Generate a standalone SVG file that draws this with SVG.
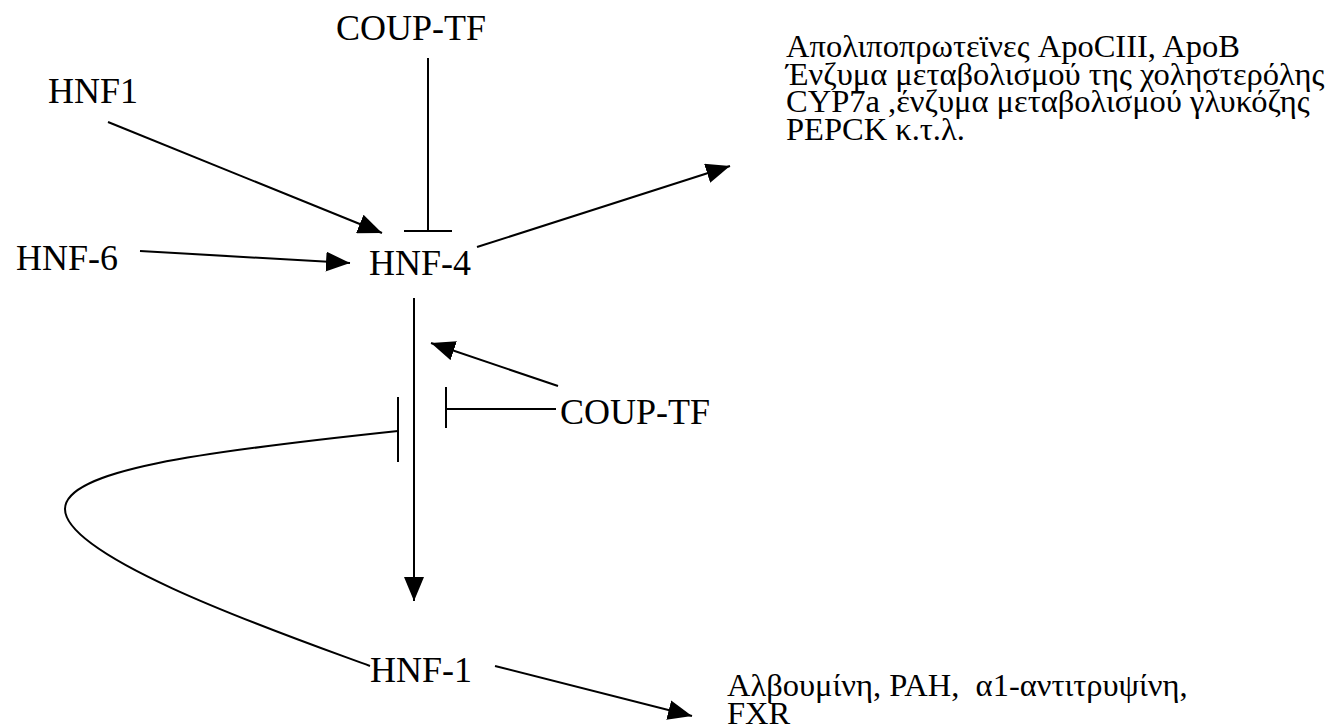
<svg xmlns="http://www.w3.org/2000/svg" width="1338" height="728" viewBox="0 0 1338 728">
<defs>
<style>
.ln{stroke:#000;stroke-width:2;fill:none}
</style>
<marker id="arr" viewBox="0 0 24 20" refX="24" refY="10" markerWidth="24" markerHeight="20" markerUnits="userSpaceOnUse" orient="auto"><path d="M0,0 L24,10 L0,20 z" fill="#000"/></marker>
</defs>
<rect width="1338" height="728" fill="#fff"/>
<g id="connectors">
<line class="ln" x1="108" y1="122" x2="382" y2="233" marker-end="url(#arr)"/>
<line class="ln" x1="140" y1="251" x2="350" y2="263" marker-end="url(#arr)"/>
<line class="ln" x1="428" y1="58" x2="428" y2="231"/>
<line class="ln" x1="404" y1="231" x2="452" y2="231"/>
<line class="ln" x1="477" y1="247" x2="730" y2="166" marker-end="url(#arr)"/>
<line class="ln" x1="414" y1="298" x2="414" y2="601" marker-end="url(#arr)"/>
<line class="ln" x1="558" y1="386" x2="431" y2="343" marker-end="url(#arr)"/>
<line class="ln" x1="556" y1="409" x2="446" y2="409"/>
<line class="ln" x1="446" y1="387" x2="446" y2="428"/>
<path class="ln" d="M398,431 C200,452 65,470 65,509 C65,560 300,640 370,666"/>
<line class="ln" x1="398" y1="397" x2="398" y2="462"/>
<line class="ln" x1="495" y1="666" x2="692" y2="716" marker-end="url(#arr)"/>
</g>
<g id="coup-tf-top"><text style="font-family:'Liberation Serif',serif;font-size:36px" x="336" y="40">COUP-TF</text></g>
<g id="hnf1"><text style="font-family:'Liberation Serif',serif;font-size:36px" x="48" y="103">HNF1</text></g>
<g id="hnf6"><text style="font-family:'Liberation Serif',serif;font-size:36px" x="16" y="270">HNF-6</text></g>
<g id="hnf4"><text style="font-family:'Liberation Serif',serif;font-size:36px" x="369" y="275">HNF-4</text></g>
<g id="coup-tf-right"><text style="font-family:'Liberation Serif',serif;font-size:36px" x="560" y="424">COUP-TF</text></g>
<g id="hnf-1"><text style="font-family:'Liberation Serif',serif;font-size:36px" x="370" y="682">HNF-1</text></g>
<g id="targets-hnf4"><text style="font-family:'Liberation Serif',serif;font-size:32.5px" x="786" y="57">Απολιποπρωτεϊνες ApoCIII, ApoB</text><text style="font-family:'Liberation Serif',serif;font-size:32.5px" x="786" y="85">Ένζυμα μεταβολισμού της χοληστερόλης</text><text style="font-family:'Liberation Serif',serif;font-size:32.5px" x="786" y="112">CYP7a ,ένζυμα μεταβολισμού γλυκόζης</text><text style="font-family:'Liberation Serif',serif;font-size:32.5px" x="786" y="140">PEPCK κ.τ.λ.</text></g>
<g id="targets-hnf1"><text style="font-family:'Liberation Serif',serif;font-size:32.5px" x="727" y="696" xml:space="preserve">Αλβουμίνη, PAH,  α1-αντιτρυψίνη,</text><text style="font-family:'Liberation Serif',serif;font-size:32.5px" x="727" y="724">FXR</text></g>
</svg>
